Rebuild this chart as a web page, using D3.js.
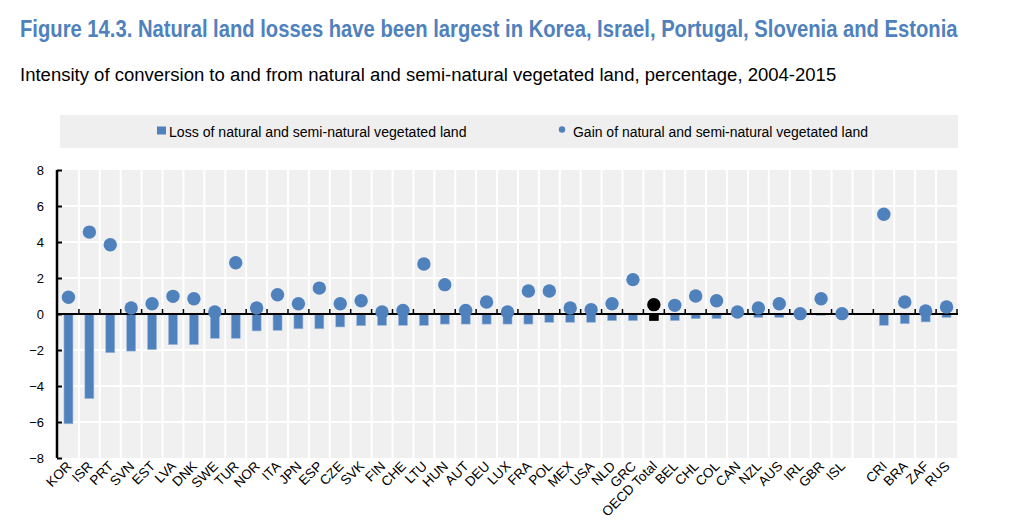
<!DOCTYPE html>
<html>
<head>
<meta charset="utf-8">
<script src="https://cdn.jsdelivr.net/npm/d3@7"></script>
<style>
  html, body { margin: 0; padding: 0; background: #fff; }
  svg { display: block; font-family: "Liberation Sans", Arial, sans-serif; }
  .narrow { font-family: "Liberation Sans Narrow", "Arial Narrow", "Liberation Sans", Arial, sans-serif; }
</style>
</head>
<body>
<svg id="chart" width="1013" height="522"></svg>
<script>
// ---- Data ----
const categories = ["KOR","ISR","PRT","SVN","EST","LVA","DNK","SWE","TUR","NOR","ITA","JPN","ESP","CZE","SVK",
  "FIN","CHE","LTU","HUN","AUT","DEU","LUX","FRA","POL","MEX","USA","NLD","GRC","OECD Total",
  "BEL","CHL","COL","CAN","NZL","AUS","IRL","GBR","ISL","","CRI","BRA","ZAF","RUS"];
const lossValues = [-6.1,-4.7,-2.15,-2.06,-1.98,-1.7,-1.7,-1.35,-1.35,-0.94,-0.91,-0.82,-0.82,-0.72,-0.65,
  -0.63,-0.63,-0.63,-0.56,-0.56,-0.56,-0.56,-0.56,-0.46,-0.46,-0.46,-0.37,-0.37,-0.37,
  -0.37,-0.26,-0.26,-0.1,-0.19,-0.19,-0.05,-0.07,-0.02,null,-0.63,-0.54,-0.44,-0.19];
const gainValues = [0.93,4.55,3.85,0.33,0.57,0.98,0.85,0.11,2.85,0.33,1.07,0.57,1.44,0.57,0.74,
  0.11,0.2,2.78,1.63,0.2,0.67,0.11,1.28,1.28,0.33,0.24,0.57,1.91,0.52,
  0.48,1.0,0.74,0.11,0.33,0.57,0.02,0.85,0.02,null,5.54,0.67,0.17,0.39];
const yTicks = [8,6,4,2,0,-2,-4,-6,-8];
const highlight = "OECD Total";

const titleText = "Figure 14.3. Natural land losses have been largest in Korea, Israel, Portugal, Slovenia and Estonia";
const subtitleText = "Intensity of conversion to and from natural and semi-natural vegetated land, percentage, 2004-2015";
const legendLoss = "Loss of natural and semi-natural vegetated land";
const legendGain = "Gain of natural and semi-natural vegetated land";

// ---- Layout ----
const BLUE = "#4f81bd";
const svg = d3.select("#chart");
const plot = { left: 58, right: 957, top: 170, bottom: 458 };

const keys = categories.map((c, i) => c === "" ? "__blank" + i : c);
const x = d3.scaleBand().domain(keys).range([plot.left, plot.right]).paddingInner(0).paddingOuter(0);
const y = d3.scaleLinear().domain([-8, 8]).range([plot.bottom, plot.top]);

const data = categories.map((c, i) => ({ key: keys[i], label: c, loss: lossValues[i], gain: gainValues[i] }));

// Fit a text to a target width: shrink glyphs horizontally only if needed
function fitText(sel, width) {
  const w = sel.node().getComputedTextLength();
  if (w > width + 1) {
    const x0 = +sel.attr("x"), y0 = +sel.attr("y");
    const k = width / w;
    sel.attr("x", 0).attr("y", 0).attr("transform", `translate(${x0},${y0}) scale(${k},1)`);
  } else if (w < width - 1) {
    sel.attr("textLength", width).attr("lengthAdjust", "spacingAndGlyphs");
  }
}

// Titles
const t1 = svg.append("text").attr("class", "narrow").attr("x", 20).attr("y", 37)
  .attr("font-size", 23).attr("font-weight", "bold").attr("fill", BLUE)
  .text(titleText);
fitText(t1, 938);
const t2 = svg.append("text").attr("x", 20).attr("y", 81)
  .attr("font-size", 19).attr("fill", "#000")
  .text(subtitleText);
fitText(t2, 817);

// Legend
const lg = svg.append("g");
lg.append("rect").attr("x", 60).attr("y", 115).attr("width", 898).attr("height", 33).attr("fill", "#efefef");
lg.append("rect").attr("x", 157).attr("y", 126.5).attr("width", 9).attr("height", 8).attr("fill", BLUE);
const l1 = lg.append("text").attr("class", "narrow").attr("x", 169).attr("y", 136.5).attr("font-size", 15.5)
  .text(legendLoss);
fitText(l1, 298);
lg.append("circle").attr("cx", 562).attr("cy", 129.5).attr("r", 3.2).attr("fill", BLUE);
const l2 = lg.append("text").attr("class", "narrow").attr("x", 573).attr("y", 136.5).attr("font-size", 15.5)
  .text(legendGain);
fitText(l2, 295);

// Plot background
svg.append("rect").attr("x", plot.left).attr("y", plot.top)
  .attr("width", plot.right - plot.left).attr("height", plot.bottom - plot.top)
  .attr("fill", "#f0f0f0");

// Gridlines
const grid = svg.append("g").attr("stroke", "#fff").attr("stroke-width", 2);
grid.selectAll("line.h").data(yTicks.filter(t => t !== 0 && t !== -8 && t !== 8)).join("line")
  .attr("x1", plot.left).attr("x2", plot.right)
  .attr("y1", d => y(d)).attr("y2", d => y(d));
grid.selectAll("line.v").data(keys.slice(1)).join("line")
  .attr("x1", d => x(d)).attr("x2", d => x(d))
  .attr("y1", plot.top).attr("y2", plot.bottom);

// Bars (loss)
const bw = x.bandwidth() * 0.43;
svg.append("g").selectAll("rect").data(data.filter(d => d.loss !== null)).join("rect")
  .attr("x", d => x(d.key) + x.bandwidth() / 2 - bw / 2)
  .attr("width", bw)
  .attr("y", d => y(Math.max(0, d.loss)))
  .attr("height", d => Math.abs(y(d.loss) - y(0)))
  .attr("fill", d => d.label === highlight ? "#000" : BLUE)
  .attr("stroke", d => d.label === highlight ? "#000" : "#9fb9dc")
  .attr("stroke-width", 0.6);

// Zero line and x ticks
svg.append("line").attr("x1", plot.left).attr("x2", plot.right + 1)
  .attr("y1", y(0)).attr("y2", y(0)).attr("stroke", "#000").attr("stroke-width", 2);
svg.append("g").selectAll("line").data(keys.slice(1).concat(["__end"])).join("line")
  .attr("x1", d => d === "__end" ? plot.right : x(d))
  .attr("x2", d => d === "__end" ? plot.right : x(d))
  .attr("y1", y(0) - 5).attr("y2", y(0))
  .attr("stroke", "#000").attr("stroke-width", 1.5);

// Y axis
const yAxis = d3.axisLeft(y).tickValues(yTicks).tickSize(-5).tickPadding(13).tickFormat(d3.format("d"));
const ya = svg.append("g").attr("transform", `translate(${plot.left - 1},0)`).call(yAxis);
ya.select(".domain").attr("stroke", "#000").attr("stroke-width", 2.5).attr("d", `M0,${plot.top}V${plot.bottom}`);
ya.selectAll(".tick line").attr("stroke", "#000").attr("stroke-width", 2);
ya.selectAll(".tick text").attr("font-size", 13).attr("fill", "#000")
  .attr("font-family", "Liberation Sans, Arial, sans-serif");

// Dots (gain)
svg.append("g").selectAll("circle").data(data.filter(d => d.gain !== null)).join("circle")
  .attr("cx", d => x(d.key) + x.bandwidth() / 2)
  .attr("cy", d => y(d.gain))
  .attr("r", 6.7)
  .attr("fill", d => d.label === highlight ? "#000" : BLUE);

// X labels
svg.append("g").selectAll("text").data(data.filter(d => d.label !== "")).join("text")
  .attr("transform", d => `translate(${x(d.key) + x.bandwidth() / 2 + 4},${plot.bottom + 9}) rotate(-45)`)
  .attr("text-anchor", "end")
  .attr("font-size", 13.5)
  .attr("fill", "#000")
  .text(d => d.label);
</script>
</body>
</html>
